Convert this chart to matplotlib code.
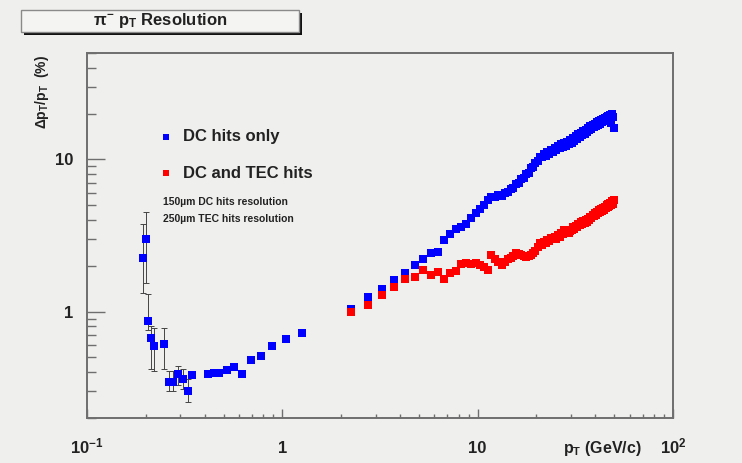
import matplotlib
matplotlib.use("Agg")
import matplotlib.pyplot as plt
from matplotlib.patches import Rectangle
from matplotlib.ticker import FixedLocator, LogLocator, NullFormatter
import numpy as np

plt.rcParams['font.family'] = ['Liberation Sans', 'DejaVu Sans']
plt.rcParams['font.weight'] = 'bold'
plt.rcParams['mathtext.fontset'] = 'custom'
plt.rcParams['mathtext.rm'] = 'Liberation Sans:bold'
plt.rcParams['mathtext.it'] = 'Liberation Sans:bold'
plt.rcParams['mathtext.bf'] = 'Liberation Sans:bold'

# low pT, DC hits only (with error bars)
low_pt = [0.193, 0.200, 0.2055, 0.212, 0.221, 0.247, 0.2625, 0.277, 0.294, 0.31,
          0.328, 0.344, 0.414, 0.445, 0.475, 0.52, 0.5625, 0.623, 0.691, 0.78,
          0.889, 1.04, 1.26]
low_res = [2.26, 2.99, 0.87, 0.666, 0.59, 0.608, 0.347, 0.347, 0.388, 0.363,
           0.301, 0.384, 0.388, 0.397, 0.397, 0.413, 0.432, 0.392, 0.481, 0.51,
           0.59, 0.663, 0.726]
low_lo = [1.33, 1.55, 0.76, 0.42, 0.405, 0.418, 0.30, 0.30, 0.33, 0.31,
          0.254, 0.37, 0.37, 0.397, 0.397, 0.413, 0.432, 0.392, 0.481, 0.51,
          0.59, 0.663, 0.726]
low_hi = [3.76, 4.5, 1.31, 0.80, 0.78, 0.786, 0.405, 0.405, 0.44, 0.42,
          0.36, 0.40, 0.40, 0.397, 0.397, 0.413, 0.432, 0.392, 0.481, 0.51,
          0.59, 0.663, 0.726]

# pT bins above 2 GeV/c
pt = [2.25, 2.75, 3.25, 3.75, 4.25, 4.75, 5.25, 5.75, 6.25, 6.75, 7.25, 7.75,
      8.25, 8.75, 9.25, 9.75, 10.25, 10.75, 11.25, 11.75, 12.25, 12.75, 13.25, 13.75,
      14.25, 14.75, 15.25, 15.75, 16.25, 16.75, 17.25, 17.75, 18.25, 18.75, 19.25, 19.75,
      20.25, 20.75, 21.25, 21.75, 22.25, 22.75, 23.25, 23.75, 24.25, 24.75, 25.25, 25.75,
      26.25, 26.75, 27.25, 27.75, 28.25, 28.75, 29.25, 29.75, 30.25, 30.75, 31.25, 31.75,
      32.25, 32.75, 33.25, 33.75, 34.25, 34.75, 35.25, 35.75, 36.25, 36.75, 37.25, 37.75,
      38.25, 38.75, 39.25, 39.75, 40.25, 40.75, 41.25, 41.75, 42.25, 42.75, 43.25, 43.75,
      44.25, 44.75, 45.25, 45.75, 46.25, 46.75, 47.25, 47.75, 48.25, 48.75, 49.25, 49.75]

dc_only = [1.04, 1.24, 1.41, 1.62, 1.78, 2.02, 2.23, 2.44, 2.45, 2.95, 3.22, 3.5,
           3.62, 3.78, 4.1, 4.42, 4.75, 5.05, 5.4, 5.7, 5.65, 5.8, 5.72, 6.05,
           6.1, 6.4, 6.5, 6.9, 7.0, 7.4, 7.55, 8.0, 8.2, 8.75, 8.85, 9.5,
           9.8, 10.4, 10.3, 10.9, 10.6, 11.2, 10.9, 11.6, 11.2, 11.9, 11.5, 12.2,
           11.8, 12.6, 12.1, 12.8, 12.3, 13.1, 12.7, 13.5, 12.9, 13.8, 13.3, 14.2,
           13.6, 14.6, 14.0, 14.9, 14.4, 15.3, 14.7, 15.6, 15.1, 16.0, 15.5, 16.5,
           15.9, 16.9, 16.3, 17.2, 16.6, 17.5, 16.9, 17.8, 17.2, 18.1, 17.5, 18.4,
           17.8, 18.7, 18.0, 19.0, 18.3, 19.3, 18.6, 19.6, 17.3, 19.9, 19.0, 16.2]

dc_tec = [1.0, 1.10, 1.29, 1.46, 1.65, 1.70, 1.88, 1.74, 1.81, 1.63, 1.80, 1.86,
          2.06, 2.08, 2.05, 2.09, 2.03, 1.96, 1.88, 2.36, 2.2, 2.12, 2.03, 2.12,
          2.2, 2.26, 2.32, 2.44, 2.38, 2.36, 2.32, 2.28, 2.31, 2.36, 2.44, 2.52,
          2.66, 2.82, 2.74, 2.88, 2.82, 2.95, 2.9, 3.05, 2.98, 3.1, 3.02, 3.18,
          3.1, 3.28, 3.22, 3.45, 3.36, 3.32, 3.26, 3.4, 3.45, 3.58, 3.5, 3.66,
          3.6, 3.76, 3.7, 3.86, 3.76, 3.92, 3.84, 3.98, 3.9, 4.08, 4.0, 4.18,
          4.12, 4.32, 4.22, 4.42, 4.34, 4.52, 4.42, 4.62, 4.52, 4.72, 4.6, 4.8,
          4.68, 4.9, 4.76, 5.0, 4.86, 5.1, 4.96, 5.2, 5.04, 5.3, 5.12, 5.4]

x_ticks = [0.1, 1, 10, 100]
x_tick_labels = [r'$10^{-1}$', '1', '10', r'$10^{2}$']
y_ticks = [1, 10]
y_tick_labels = ['1', '10']

bg = '#efefed'
frame = '#6e6e6e'
ink = '#222222'

fig = plt.figure(figsize=(7.42, 4.63), dpi=100, facecolor=bg)
ax = fig.add_axes([87 / 742, 45 / 463, 586 / 742, 365 / 463])
ax.set_facecolor(bg)
ax.set_xscale('log')
ax.set_yscale('log')
ax.set_xlim(0.1, 100)
ax.set_ylim(0.2, 50)

for s in ax.spines.values():
    s.set_color(frame)
    s.set_linewidth(1.4)

# error bars for the low pT points
res = np.array(low_res)
yerr = [res - np.array(low_lo), np.array(low_hi) - res]
ax.errorbar(low_pt, low_res, yerr=yerr, fmt='none', ecolor='#444444',
            elinewidth=0.7, capsize=2, capthick=0.7, zorder=2)
ax.plot(low_pt, low_res, 's', color='#0000ff', ms=5.6, mew=0, zorder=3)
ax.plot(pt, dc_only, 's', color='#0000ff', ms=5.6, mew=0, zorder=3)
ax.plot(pt, dc_tec, 's', color='#ff0000', ms=5.6, mew=0, zorder=4)

# ticks
ax.xaxis.set_major_locator(FixedLocator(x_ticks))
ax.xaxis.set_minor_locator(LogLocator(base=10, subs=np.arange(2, 10)))
ax.xaxis.set_minor_formatter(NullFormatter())
ax.set_xticklabels([])
ax.yaxis.set_major_locator(FixedLocator(y_ticks))
ax.yaxis.set_minor_locator(LogLocator(base=10, subs=np.arange(2, 10)))
ax.yaxis.set_minor_formatter(NullFormatter())
ax.set_yticklabels(y_tick_labels)
ax.tick_params(axis='x', which='major', direction='in', length=6.5, width=1, color=frame)
ax.tick_params(axis='x', which='minor', direction='in', length=3.2, width=1, color=frame)
ax.tick_params(axis='y', which='major', direction='in', length=13, width=1,
               color=frame, pad=10, labelsize=12)
ax.tick_params(axis='y', which='minor', direction='in', length=6.5, width=1, color=frame)
for lab in ax.get_yticklabels():
    lab.set_fontweight('bold')
    lab.set_color(ink)

# x tick labels on a common baseline
xt = ax.get_xaxis_transform()
for xv, lab in zip(x_ticks, x_tick_labels):
    ax.text(xv, -0.096, lab, transform=xt, fontsize=12, fontweight='bold',
            ha='center', va='baseline', color=ink, clip_on=False)

# legend drawn by hand
ax.plot([0.1348], [0.7699], 's', color='#0000ff', ms=4.8, mew=0, transform=ax.transAxes)
ax.plot([0.1348], [0.6712], 's', color='#ff0000', ms=4.8, mew=0, transform=ax.transAxes)
ax.text(0.1638, 0.7699, 'DC hits only', transform=ax.transAxes, fontsize=12,
        fontweight='bold', va='center', color=ink)
ax.text(0.1638, 0.6712, 'DC and TEC hits', transform=ax.transAxes, fontsize=12,
        fontweight='bold', va='center', color=ink)
ax.text(0.130, 0.5918, '150\u00b5m DC hits resolution', transform=ax.transAxes,
        fontsize=7.5, va='center', color=ink)
ax.text(0.130, 0.5452, '250\u00b5m TEC hits resolution', transform=ax.transAxes,
        fontsize=7.5, va='center', color=ink)

# axis titles
ax.text(563 / 742, 1 - 453 / 463, r'$p_T$ (GeV/c)', transform=fig.transFigure,
        fontsize=11.5, fontweight='bold', va='baseline', ha='left', color=ink)
fig.text(42 / 742, 1 - 55 / 463, r'$\Delta p_T/p_T$  (%)', fontsize=10, fontweight='bold',
         rotation=90, va='top', ha='center', color=ink)

# title box with shadow
fig.patches.append(Rectangle((24 / 742, 1 - 35 / 463), 278 / 742, 22 / 463,
                             transform=fig.transFigure, facecolor='#111111',
                             edgecolor='none', zorder=1))
fig.patches.append(Rectangle((21 / 742, 1 - 32 / 463), 278 / 742, 22 / 463,
                             transform=fig.transFigure, facecolor='#f4f4f2',
                             edgecolor='#8a8a8a', linewidth=1, zorder=2))
fig.text(160 / 742, 1 - 21 / 463, r'$\pi^{-}$ $p_T$ Resolution', fontsize=12,
         fontweight='bold', ha='center', va='center', color=ink, zorder=3)

fig.savefig('out.png', dpi=100, facecolor=bg)
